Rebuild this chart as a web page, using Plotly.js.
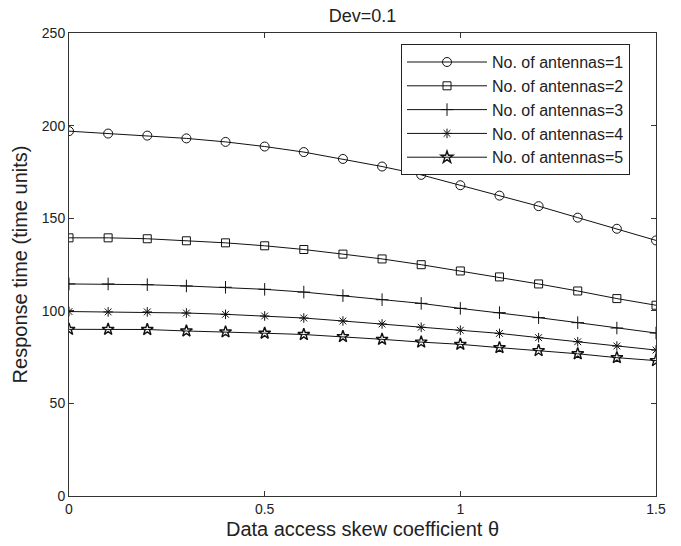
<!DOCTYPE html>
<html><head><meta charset="utf-8">
<script src="https://cdn.plot.ly/plotly-3.0.1.min.js"></script>
<style>html,body{margin:0;padding:0;background:#fff}#c{width:681px;height:546px}</style>
</head><body><div id="c"></div>
<script>
const theta = [0, 0.1, 0.2, 0.3, 0.4, 0.5, 0.6, 0.7, 0.8, 0.9, 1.0, 1.1, 1.2, 1.3, 1.4, 1.5];
const ant1 = [197, 195.7, 194.6, 193.1, 191.2, 188.7, 185.7, 182, 177.9, 173.4, 167.8, 162.2, 156.5, 150.3, 144.3, 138];
const ant2 = [139.4, 139.4, 138.9, 137.8, 136.7, 135.1, 133.1, 130.6, 128.0, 124.9, 121.5, 118.3, 114.5, 110.7, 106.6, 103.0];
const ant3 = [114.5, 114.5, 114.1, 113.4, 112.7, 111.6, 110.1, 108.2, 106.0, 104.0, 101.3, 99.0, 96.3, 93.6, 90.7, 88.0];
const ant4 = [99.6, 99.4, 99.4, 98.8, 98.1, 97.2, 96.1, 94.5, 92.9, 91.1, 89.5, 87.8, 85.5, 83.3, 81.0, 78.8];
const ant5 = [90.0, 90.0, 89.9, 89.1, 88.6, 87.9, 87.2, 86.1, 84.6, 83.1, 81.9, 80.1, 78.5, 76.8, 74.7, 73.1];
const names = ["No. of antennas=1","No. of antennas=2","No. of antennas=3","No. of antennas=4","No. of antennas=5"];
const xTicks = [0, 0.5, 1, 1.5];
const xTickText = ["0", "0.5", "1", "1.5"];
const yTicks = [0, 50, 100, 150, 200, 250];

const series = [ant1, ant2, ant3, ant4, ant5];
const symbols = ["circle-open", "square-open", "cross-thin-open", "asterisk-open", "star-open"];
const sizes = [9, 8, 9, 8, 9];
const traces = series.map((ys, i) => ({
  x: theta, y: ys, name: names[i], type: "scatter", mode: "lines+markers",
  line: {color: "#111", width: 1},
  marker: {symbol: symbols[i], size: sizes[i], color: "#111", line: {color: "#111", width: i === 4 ? 1.4 : 1}}
}));

const font = "Liberation Sans, Arial, sans-serif";
const layout = {
  width: 681, height: 546,
  margin: {l: 69, r: 25, t: 33, b: 50},
  paper_bgcolor: "#fff", plot_bgcolor: "#fff",
  font: {family: font, color: "#222", size: 14},
  title: {text: "Dev=0.1", font: {size: 18, family: font, color: "#222"}, x: 0.5, xref: "paper", xanchor: "center", y: 0.972, yanchor: "middle"},
  xaxis: {
    range: [0, 1.5], tickvals: xTicks, ticktext: xTickText,
    ticks: "inside", ticklen: 5, tickcolor: "#333",
    showline: true, linecolor: "#333", linewidth: 1, mirror: "allticks",
    showgrid: false, zeroline: false,
    tickfont: {size: 14},
    title: {text: "Data access skew coefficient \u03B8", font: {size: 20}, standoff: 6}
  },
  yaxis: {
    range: [0, 250], tickvals: yTicks,
    ticks: "inside", ticklen: 5, tickcolor: "#333",
    showline: true, linecolor: "#333", linewidth: 1, mirror: "allticks",
    showgrid: false, zeroline: false,
    tickfont: {size: 14},
    title: {text: "Response time (time units)", font: {size: 20}, standoff: 8}
  },
  legend: {
    x: 0.5656, y: 0.976, xanchor: "left", yanchor: "top",
    bgcolor: "#fff", bordercolor: "#222", borderwidth: 1,
    font: {size: 16, family: font, color: "#222"},
    itemwidth: 80, tracegroupgap: 0
  },
  showlegend: true
};
Plotly.newPlot("c", traces, layout, {displayModeBar: false, staticPlot: true});
</script>
</body></html>
